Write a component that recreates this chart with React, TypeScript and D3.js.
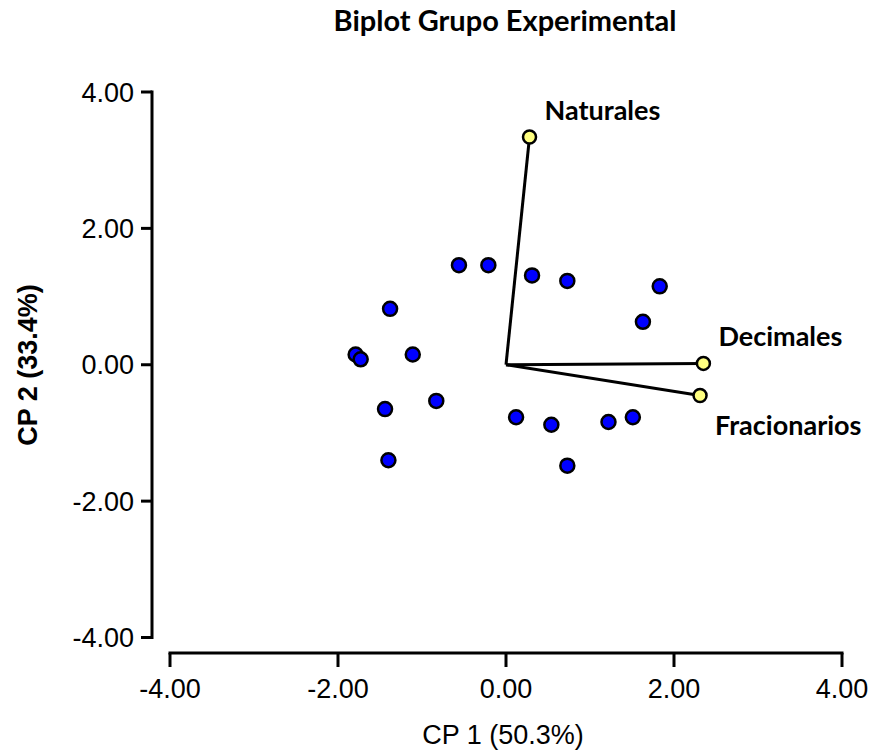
import { scaleLinear, format } from "d3";

// observations (CP1, CP2)
const obsX = [-0.56, -0.21, -1.38, -1.79, -1.73, -1.11, -1.44, -0.83, -1.4, 0.12, 0.31, 0.73, 1.83, 1.63, 0.54, 1.22, 1.51, 0.73];
const obsY = [1.46, 1.46, 0.82, 0.15, 0.08, 0.15, -0.65, -0.53, -1.4, -0.77, 1.31, 1.23, 1.15, 0.63, -0.88, -0.84, -0.77, -1.48];

// variable vectors
const varNames = ["Naturales", "Decimales", "Fracionarios"];
const varX = [0.28, 2.35, 2.31];
const varY = [3.34, 0.02, -0.45];

const xTicks = [-4, -2, 0, 2, 4];
const yTicks = [-4, -2, 0, 2, 4];

const W = 878;
const H = 756;

const x = scaleLinear().domain([-4, 4]).range([170, 842]);
const y = scaleLinear().domain([-4, 4]).range([637.5, 92]);
const fmt = (v: number) => format(".2f")(v).replace("\u2212", "-");

const labelFont = "Lato, 'Open Sans', sans-serif";
const tickFont = "'Liberation Sans', Arial, sans-serif";

// label offsets relative to vector tip
const labelDx = [15, 15, 15];
const labelDy = [-17, -17, 40];

const App = () => {
  const xAxisY = 653;
  const yAxisX = 152;

  return (
    <svg
      width={W}
      height={H}
      style={{ position: "absolute", left: 0, top: 0, background: "#fff" }}
    >
      <text
        x={505}
        y={31}
        textAnchor="middle"
        fontFamily={labelFont}
        fontWeight="bold"
        fontSize={29}
      >
        Biplot Grupo Experimental
      </text>

      {/* y axis */}
      <line x1={yAxisX} x2={yAxisX} y1={y(4) - 1.5} y2={y(-4) + 1.5} stroke="#000" strokeWidth={3} />
      {yTicks.map((t) => (
        <g key={t}>
          <line x1={yAxisX - 11} x2={yAxisX} y1={y(t)} y2={y(t)} stroke="#000" strokeWidth={3} />
          <text
            x={yAxisX - 18}
            y={y(t)}
            dy="0.36em"
            textAnchor="end"
            fontFamily={tickFont}
            fontSize={27}
          >
            {fmt(t)}
          </text>
        </g>
      ))}

      {/* x axis */}
      <line x1={x(-4) - 1.5} x2={x(4) + 1.5} y1={xAxisY} y2={xAxisY} stroke="#000" strokeWidth={3} />
      {xTicks.map((t) => (
        <g key={t}>
          <line x1={x(t)} x2={x(t)} y1={xAxisY} y2={xAxisY + 14} stroke="#000" strokeWidth={3} />
          <text
            x={x(t)}
            y={698}
            textAnchor="middle"
            fontFamily={tickFont}
            fontSize={27}
          >
            {fmt(t)}
          </text>
        </g>
      ))}

      <text x={503} y={744} textAnchor="middle" fontFamily={tickFont} fontSize={27}>
        CP 1 (50.3%)
      </text>
      <text
        transform={`translate(37, 365) rotate(-90)`}
        textAnchor="middle"
        fontFamily={tickFont}
        fontWeight="bold"
        fontSize={27}
      >
        CP 2 (33.4%)
      </text>

      {/* vectors */}
      {varNames.map((n, i) => (
        <line
          key={n}
          x1={x(0)}
          y1={y(0)}
          x2={x(varX[i])}
          y2={y(varY[i])}
          stroke="#000"
          strokeWidth={3}
        />
      ))}

      {obsX.map((v, i) => (
        <circle key={i} cx={x(v)} cy={y(obsY[i])} r={7} fill="#0000ff" stroke="#000" strokeWidth={2.5} />
      ))}

      {varNames.map((n, i) => (
        <g key={n}>
          <circle cx={x(varX[i])} cy={y(varY[i])} r={6.5} fill="#ffff80" stroke="#000" strokeWidth={2.5} />
          <text
            x={x(varX[i]) + labelDx[i]}
            y={y(varY[i]) + labelDy[i]}
            fontFamily={labelFont}
            fontWeight="bold"
            fontSize={27}
          >
            {n}
          </text>
        </g>
      ))}
    </svg>
  );
};

export default App;
